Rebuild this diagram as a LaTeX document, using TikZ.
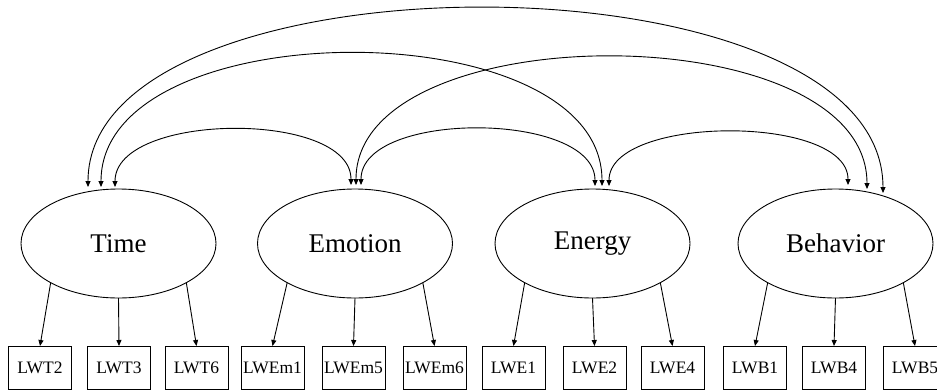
\documentclass[tikz,border=0pt]{standalone}
\usepackage{fontspec}
\setmainfont{Liberation Serif}
\usetikzlibrary{arrows.meta,shapes.geometric}
\begin{document}
\begin{tikzpicture}[x=1pt,y=-1pt,
  latent/.style={draw, ellipse, line width=0.9pt, minimum width=195pt,
    minimum height=109pt, inner sep=0pt, outer sep=0pt,
    font=\fontsize{27}{30}\selectfont},
  indicator/.style={draw, rectangle, line width=0.9pt, minimum width=63pt,
    minimum height=43pt, inner sep=0pt, outer sep=0pt,
    font=\fontsize{17.5}{20}\selectfont},
  tip/.tip={Triangle[length=6pt,width=5pt]},
  load/.style={-tip, line width=0.9pt},
  cov/.style={tip-tip, line width=0.9pt}]
\useasboundingbox (0,0) rectangle (937,391);

% latent factors
\node[latent] (time) at (118.5,243.5) {Time};
\node[latent] (emo)  at (355,243.5)   {Emotion};
\node[latent] (ene)  at (592.5,243.5) {Energy};
\node[latent] (beh)  at (835.5,243.5) {Behavior};

% observed indicators
\node[indicator] (t2)  at (40,367.5)    {LWT2};
\node[indicator] (t3)  at (119,367.5)   {LWT3};
\node[indicator] (t6)  at (196.5,367.5) {LWT6};
\node[indicator] (em1) at (272.5,367.5) {LWEm1};
\node[indicator] (em5) at (353.5,367.5) {LWEm5};
\node[indicator] (em6) at (434.5,367.5) {LWEm6};
\node[indicator] (e1)  at (513.5,367.5) {LWE1};
\node[indicator] (e2)  at (594.5,367.5) {LWE2};
\node[indicator] (e4)  at (672.5,367.5) {LWE4};
\node[indicator] (b1)  at (755,367.5)   {LWB1};
\node[indicator] (b4)  at (834,367.5)   {LWB4};
\node[indicator] (b5)  at (915,367.5)   {LWB5};

% factor loadings
\draw[load] (time.210) -- (t2.north);
\draw[load] (time.south) -- (t3.north);
\draw[load] (time.330) -- (t6.north);
\draw[load] (emo.210) -- (em1.north);
\draw[load] (emo.south) -- (em5.north);
\draw[load] (emo.330) -- (em6.north);
\draw[load] (ene.210) -- (e1.north);
\draw[load] (ene.south) -- (e2.north);
\draw[load] (ene.330) -- (e4.north);
\draw[load] (beh.210) -- (b1.north);
\draw[load] (beh.south) -- (b4.north);
\draw[load] (beh.330) -- (b5.north);

% factor covariances
\draw[cov] ([shift={(-3.5,-2)}]time.north) .. controls +(0,-75) and +(0,-75) .. ([shift={(-4,-4)}]emo.north);
\draw[cov] ([shift={(6,-4)}]emo.north) .. controls +(0,-75) and +(0,-75) .. ([shift={(2.5,-3)}]ene.north);
\draw[cov] ([shift={(16.5,-3)}]ene.north) .. controls +(0,-71) and +(0,-71) .. ([shift={(12.5,-4)}]beh.north);
\draw[cov] ([shift={(-17.5,-2)}]time.north) .. controls +(0,-177) and +(0,-177) .. ([shift={(9.5,-3)}]ene.north);
\draw[cov] ([shift={(1,-4)}]emo.north) .. controls +(0,-171) and +(0,-175) .. ([shift={(31.5,0)}]beh.north);
\draw[cov] ([shift={(-30.5,-2)}]time.north) .. controls +(0,-239) and +(0,-245) .. ([shift={(47.5,4)}]beh.north);
\end{tikzpicture}
\end{document}
